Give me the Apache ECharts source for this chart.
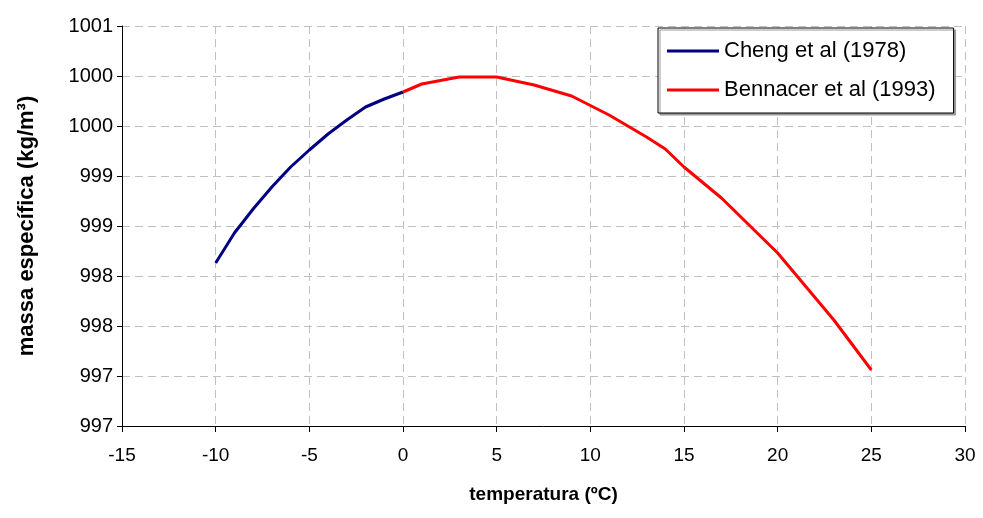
<!DOCTYPE html>
<html>
<head>
<meta charset="utf-8">
<script src="https://cdn.jsdelivr.net/npm/echarts@6/dist/echarts.min.js"></script>
<style>
  html, body { margin: 0; padding: 0; background: #fff; }
  #chart { width: 983px; height: 518px; }
</style>
</head>
<body>
<div id="chart"></div>
<script>
// dados
var chengT = [-10, -9, -8, -7, -6, -5, -4, -3, -2, -1, 0];
var chengRho = [998.13, 998.43, 998.67, 998.89, 999.09, 999.26, 999.42, 999.56, 999.69, 999.77, 999.84];
var bennT = [0, 1, 3, 5, 7, 9, 11, 13, 14, 15, 17, 20, 23, 25];
var bennRho = [999.84, 999.92, 999.99, 999.99, 999.91, 999.80, 999.61, 999.39, 999.27, 999.09, 998.78, 998.23, 997.56, 997.06];

function pares(xs, ys) {
  return xs.map(function (x, i) { return [x, ys[i]]; });
}

var myChart = echarts.init(document.getElementById("chart"));
var fonte = "Liberation Sans, Arial, sans-serif";
var grade = { color: "#c0c0c0", type: [8, 5], width: 1 };

myChart.setOption({
  backgroundColor: "#ffffff",
  animation: false,
  textStyle: { fontFamily: fonte, color: "#000" },
  grid: { left: 122, right: 18, top: 26, bottom: 92 },
  legend: {
    orient: "vertical",
    left: 658,
    top: 28,
    padding: [12, 18, 12, 9],
    itemGap: 17,
    itemWidth: 52,
    itemHeight: 3,
    icon: "rect",
    backgroundColor: "#fff",
    borderColor: "#000",
    borderWidth: 1,
    shadowColor: "#999",
    shadowOffsetX: 2,
    shadowOffsetY: 2,
    textStyle: { fontSize: 22, fontFamily: fonte, color: "#000" },
    data: ["Cheng et al (1978)", "Bennacer et al (1993)"]
  },
  xAxis: {
    type: "value",
    min: -15,
    max: 30,
    interval: 5,
    name: "temperatura (ºC)",
    nameLocation: "middle",
    nameGap: 59,
    nameTextStyle: { fontSize: 19, fontWeight: "bold", fontFamily: fonte, color: "#000" },
    axisLine: { onZero: false, lineStyle: { color: "#000", width: 1 } },
    axisTick: { show: true, length: 6, lineStyle: { color: "#000" } },
    axisLabel: { fontSize: 19, color: "#000", margin: 20 },
    splitLine: { show: true, lineStyle: grade }
  },
  yAxis: {
    type: "value",
    min: 996.5,
    max: 1000.5,
    interval: 0.5,
    name: "massa específica (kg/m³)",
    nameLocation: "middle",
    nameGap: 84,
    nameTextStyle: { fontSize: 22, fontWeight: "bold", fontFamily: fonte, color: "#000" },
    axisLine: { show: true, onZero: false, lineStyle: { color: "#000", width: 1 } },
    axisTick: { show: true, length: 5, lineStyle: { color: "#000" } },
    axisLabel: {
      fontSize: 20,
      color: "#000",
      margin: 9,
      formatter: function (v) { return String(Math.round(v)); }
    },
    splitLine: { show: true, lineStyle: grade }
  },
  series: [
    {
      name: "Cheng et al (1978)",
      type: "line",
      symbol: "none",
      lineStyle: { color: "#000080", width: 3 },
      itemStyle: { color: "#000080" },
      data: pares(chengT, chengRho)
    },
    {
      name: "Bennacer et al (1993)",
      type: "line",
      symbol: "none",
      lineStyle: { color: "#ff0000", width: 3 },
      itemStyle: { color: "#ff0000" },
      data: pares(bennT, bennRho)
    }
  ]
});
</script>
</body>
</html>
